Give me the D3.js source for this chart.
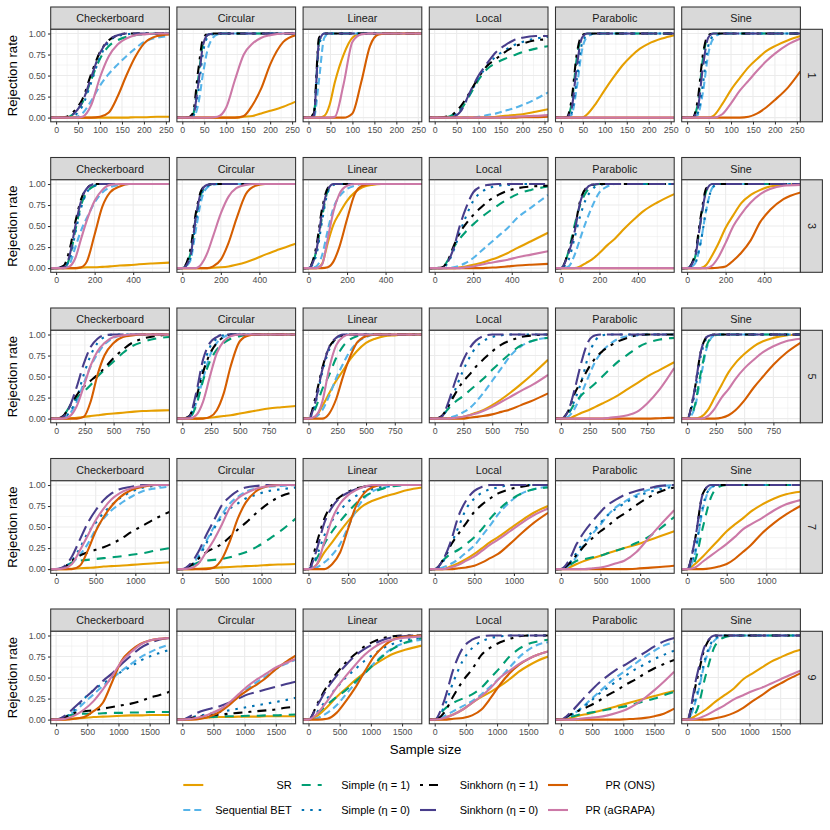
<!DOCTYPE html>
<html>
<head>
<meta charset="utf-8">
<script src="https://cdn.jsdelivr.net/npm/d3@7"></script>
<style>
  body { margin: 0; background: #fff; }
  svg { display: block; }
  text { font-family: "Liberation Sans", Arial, Helvetica, sans-serif; }
</style>
</head>
<body>
<div id="chart"></div>
<script>
//facet categories
var datasets = ["Checkerboard", "Circular", "Linear", "Local", "Parabolic", "Sine"];
var dims = [1, 3, 5, 7, 9];
var methods = ["SR", "Sequential BET", "Simple (η = 1)", "Simple (η = 0)",
  "Sinkhorn (η = 1)", "Sinkhorn (η = 0)", "PR (ONS)", "PR (aGRAPA)"];

//x limits of each row (before the 5% expansion) and its tick labels
var xLimits = [245.7, 560, 938, 1362, 1730];
var xTicks1 = [0, 50, 100, 150, 200, 250];
var xTicks3 = [0, 200, 400];
var xTicks5 = [0, 250, 500, 750];
var xTicks7 = [0, 500, 1000];
var xTicks9 = [0, 500, 1000, 1500];
var yTicks = [0, 0.25, 0.5, 0.75, 1];

//sample sizes at which the rejection rates were read
var grid1 = [0, 12, 24, 36, 48, 60, 80, 100, 120, 140, 160, 180, 200, 230, 258];
var grid3 = [0, 40, 70, 100, 130, 160, 200, 240, 280, 330, 380, 430, 500, 588];
var grid5 = [0, 60, 120, 180, 240, 300, 360, 420, 500, 580, 660, 750, 860, 985];
var grid7 = [0, 100, 200, 300, 400, 500, 600, 700, 800, 950, 1100, 1250, 1430];
var grid9 = [0, 150, 300, 450, 600, 750, 900, 1050, 1200, 1350, 1500, 1650, 1816];

//rejection rates, one line per method (same order as methods)
//d = 1
var d1Checkerboard = [
  [0, 0, 0, 0, 0, 0, 0, 0, 0, 0, 0, 0.005, 0.005, 0.01, 0.01],
  [0, 0, 0, 0, 0.01, 0.05, 0.2, 0.38, 0.52, 0.63, 0.73, 0.82, 0.9, 0.95, 0.97],
  [0, 0, 0, 0.03, 0.09, 0.18, 0.45, 0.7, 0.85, 0.92, 0.96, 0.98, 0.99, 1, 1],
  [0, 0, 0, 0.01, 0.05, 0.14, 0.42, 0.72, 0.9, 0.97, 0.99, 1, 1, 1, 1],
  [0, 0, 0.01, 0.05, 0.12, 0.22, 0.52, 0.78, 0.92, 0.98, 1, 1, 1, 1, 1],
  [0, 0, 0, 0.03, 0.09, 0.19, 0.48, 0.77, 0.92, 0.98, 1, 1, 1, 1, 1],
  [0, 0, 0, 0, 0, 0, 0, 0.01, 0.06, 0.25, 0.5, 0.72, 0.88, 0.97, 0.99],
  [0, 0, 0, 0, 0, 0.01, 0.15, 0.48, 0.73, 0.87, 0.94, 0.98, 0.99, 1, 1]
];
var d1Circular = [
  [0, 0, 0, 0, 0, 0, 0, 0, 0, 0.01, 0.02, 0.05, 0.08, 0.13, 0.19],
  [0, 0, 0, 0.15, 0.55, 0.85, 0.99, 1, 1, 1, 1, 1, 1, 1, 1],
  [0, 0, 0.03, 0.45, 0.9, 0.99, 1, 1, 1, 1, 1, 1, 1, 1, 1],
  [0, 0, 0.01, 0.3, 0.8, 0.97, 1, 1, 1, 1, 1, 1, 1, 1, 1],
  [0, 0, 0.05, 0.55, 0.95, 1, 1, 1, 1, 1, 1, 1, 1, 1, 1],
  [0, 0, 0.02, 0.38, 0.88, 0.99, 1, 1, 1, 1, 1, 1, 1, 1, 1],
  [0, 0, 0, 0, 0, 0, 0, 0, 0, 0.02, 0.15, 0.35, 0.63, 0.9, 0.98],
  [0, 0, 0, 0, 0, 0, 0.01, 0.12, 0.45, 0.75, 0.88, 0.95, 0.98, 1, 1]
];
var d1Linear = [
  [0, 0, 0, 0.02, 0.15, 0.42, 0.75, 0.95, 1, 1, 1, 1, 1, 1, 1],
  [0, 0, 0.45, 0.95, 1, 1, 1, 1, 1, 1, 1, 1, 1, 1, 1],
  [0, 0.03, 0.9, 1, 1, 1, 1, 1, 1, 1, 1, 1, 1, 1, 1],
  [0, 0.02, 0.85, 1, 1, 1, 1, 1, 1, 1, 1, 1, 1, 1, 1],
  [0, 0.05, 0.95, 1, 1, 1, 1, 1, 1, 1, 1, 1, 1, 1, 1],
  [0, 0.02, 0.9, 1, 1, 1, 1, 1, 1, 1, 1, 1, 1, 1, 1],
  [0, 0, 0, 0, 0, 0, 0, 0.05, 0.42, 0.85, 0.99, 1, 1, 1, 1],
  [0, 0, 0, 0, 0, 0.01, 0.4, 0.9, 0.99, 1, 1, 1, 1, 1, 1]
];
var d1Local = [
  [0, 0, 0, 0, 0, 0, 0, 0, 0, 0.01, 0.02, 0.03, 0.04, 0.07, 0.1],
  [0, 0, 0, 0, 0, 0, 0, 0.01, 0.03, 0.05, 0.08, 0.11, 0.15, 0.22, 0.3],
  [0, 0, 0, 0.02, 0.05, 0.1, 0.27, 0.45, 0.58, 0.65, 0.7, 0.74, 0.78, 0.82, 0.85],
  [0, 0, 0, 0.01, 0.04, 0.1, 0.28, 0.47, 0.62, 0.73, 0.8, 0.86, 0.9, 0.94, 0.96],
  [0, 0, 0.01, 0.02, 0.07, 0.14, 0.3, 0.48, 0.62, 0.7, 0.78, 0.84, 0.88, 0.92, 0.93],
  [0, 0, 0, 0, 0.02, 0.08, 0.3, 0.5, 0.65, 0.78, 0.86, 0.92, 0.95, 0.97, 0.97],
  [0, 0, 0, 0, 0, 0, 0, 0, 0, 0, 0, 0, 0.005, 0.005, 0.01],
  [0, 0, 0, 0, 0, 0, 0, 0, 0, 0, 0.005, 0.01, 0.015, 0.02, 0.03]
];
var d1Parabolic = [
  [0, 0, 0, 0, 0, 0.04, 0.17, 0.33, 0.48, 0.62, 0.73, 0.82, 0.88, 0.94, 0.98],
  [0, 0, 0.03, 0.35, 0.8, 0.96, 1, 1, 1, 1, 1, 1, 1, 1, 1],
  [0, 0, 0.15, 0.7, 0.97, 1, 1, 1, 1, 1, 1, 1, 1, 1, 1],
  [0, 0, 0.05, 0.45, 0.88, 0.98, 1, 1, 1, 1, 1, 1, 1, 1, 1],
  [0, 0, 0.2, 0.75, 0.98, 1, 1, 1, 1, 1, 1, 1, 1, 1, 1],
  [0, 0, 0.1, 0.6, 0.95, 1, 1, 1, 1, 1, 1, 1, 1, 1, 1],
  [0, 0, 0, 0, 0, 0, 0, 0, 0, 0, 0, 0, 0, 0, 0],
  [0, 0, 0, 0, 0, 0, 0, 0, 0, 0, 0, 0, 0, 0, 0]
];
var d1Sine = [
  [0, 0, 0, 0, 0, 0.02, 0.16, 0.33, 0.47, 0.6, 0.7, 0.79, 0.85, 0.92, 0.97],
  [0, 0, 0.03, 0.3, 0.75, 0.94, 1, 1, 1, 1, 1, 1, 1, 1, 1],
  [0, 0, 0.15, 0.7, 0.97, 1, 1, 1, 1, 1, 1, 1, 1, 1, 1],
  [0, 0, 0.05, 0.4, 0.85, 0.97, 1, 1, 1, 1, 1, 1, 1, 1, 1],
  [0, 0, 0.2, 0.75, 0.98, 1, 1, 1, 1, 1, 1, 1, 1, 1, 1],
  [0, 0, 0.1, 0.6, 0.95, 1, 1, 1, 1, 1, 1, 1, 1, 1, 1],
  [0, 0, 0, 0, 0, 0, 0, 0, 0, 0.01, 0.05, 0.12, 0.21, 0.36, 0.55],
  [0, 0, 0, 0, 0, 0, 0.04, 0.17, 0.32, 0.44, 0.56, 0.67, 0.76, 0.87, 0.94]
];

//d = 3
var d3Checkerboard = [
  [0, 0, 0, 0, 0.005, 0.01, 0.01, 0.015, 0.02, 0.03, 0.035, 0.045, 0.055, 0.065],
  [0, 0, 0.05, 0.25, 0.45, 0.6, 0.78, 0.9, 0.96, 0.99, 1, 1, 1, 1],
  [0, 0.01, 0.12, 0.45, 0.75, 0.9, 0.98, 1, 1, 1, 1, 1, 1, 1],
  [0, 0.01, 0.1, 0.42, 0.72, 0.9, 0.98, 1, 1, 1, 1, 1, 1, 1],
  [0, 0.03, 0.22, 0.55, 0.82, 0.95, 1, 1, 1, 1, 1, 1, 1, 1],
  [0, 0.01, 0.15, 0.5, 0.8, 0.95, 1, 1, 1, 1, 1, 1, 1, 1],
  [0, 0, 0, 0, 0.01, 0.08, 0.4, 0.73, 0.9, 0.97, 1, 1, 1, 1],
  [0, 0, 0.02, 0.12, 0.35, 0.57, 0.8, 0.93, 0.99, 1, 1, 1, 1, 1]
];
var d3Circular = [
  [0, 0, 0, 0, 0, 0.005, 0.01, 0.02, 0.04, 0.07, 0.11, 0.16, 0.22, 0.29],
  [0, 0.08, 0.45, 0.82, 0.96, 0.99, 1, 1, 1, 1, 1, 1, 1, 1],
  [0, 0.15, 0.6, 0.9, 0.98, 1, 1, 1, 1, 1, 1, 1, 1, 1],
  [0, 0.1, 0.55, 0.88, 0.97, 1, 1, 1, 1, 1, 1, 1, 1, 1],
  [0, 0.2, 0.65, 0.93, 0.99, 1, 1, 1, 1, 1, 1, 1, 1, 1],
  [0, 0.12, 0.6, 0.92, 0.99, 1, 1, 1, 1, 1, 1, 1, 1, 1],
  [0, 0, 0, 0, 0, 0.02, 0.1, 0.3, 0.58, 0.88, 0.98, 1, 1, 1],
  [0, 0, 0, 0.05, 0.18, 0.38, 0.65, 0.85, 0.95, 0.99, 1, 1, 1, 1]
];
var d3Linear = [
  [0, 0, 0.05, 0.3, 0.52, 0.65, 0.8, 0.9, 0.96, 0.99, 1, 1, 1, 1],
  [0, 0.02, 0.15, 0.45, 0.72, 0.85, 0.94, 0.98, 1, 1, 1, 1, 1, 1],
  [0, 0.2, 0.6, 0.92, 1, 1, 1, 1, 1, 1, 1, 1, 1, 1],
  [0, 0.15, 0.55, 0.9, 0.99, 1, 1, 1, 1, 1, 1, 1, 1, 1],
  [0, 0.25, 0.7, 0.95, 1, 1, 1, 1, 1, 1, 1, 1, 1, 1],
  [0, 0.2, 0.65, 0.93, 1, 1, 1, 1, 1, 1, 1, 1, 1, 1],
  [0, 0, 0, 0.01, 0.08, 0.25, 0.58, 0.88, 0.98, 1, 1, 1, 1, 1],
  [0, 0, 0.04, 0.35, 0.68, 0.88, 0.98, 1, 1, 1, 1, 1, 1, 1]
];
var d3Local = [
  [0, 0, 0, 0, 0.01, 0.02, 0.04, 0.06, 0.09, 0.13, 0.18, 0.24, 0.32, 0.42],
  [0, 0, 0, 0.01, 0.03, 0.06, 0.12, 0.2, 0.28, 0.38, 0.48, 0.6, 0.72, 0.87],
  [0, 0.01, 0.1, 0.25, 0.35, 0.43, 0.52, 0.6, 0.67, 0.75, 0.82, 0.88, 0.93, 0.97],
  [0, 0, 0.07, 0.22, 0.42, 0.6, 0.8, 0.9, 0.95, 0.98, 0.99, 1, 1, 1],
  [0, 0.01, 0.1, 0.27, 0.42, 0.52, 0.63, 0.72, 0.8, 0.87, 0.92, 0.95, 0.97, 0.98],
  [0, 0, 0.08, 0.25, 0.5, 0.7, 0.9, 0.97, 0.99, 1, 1, 1, 1, 1],
  [0, 0, 0, 0, 0, 0, 0, 0, 0.005, 0.01, 0.02, 0.03, 0.04, 0.05],
  [0, 0, 0, 0, 0, 0.01, 0.02, 0.04, 0.06, 0.08, 0.1, 0.13, 0.16, 0.2]
];
var d3Parabolic = [
  [0, 0, 0, 0.02, 0.06, 0.1, 0.18, 0.27, 0.35, 0.47, 0.58, 0.68, 0.78, 0.88],
  [0, 0.02, 0.15, 0.35, 0.55, 0.72, 0.9, 0.97, 1, 1, 1, 1, 1, 1],
  [0, 0.2, 0.5, 0.75, 0.9, 0.97, 1, 1, 1, 1, 1, 1, 1, 1],
  [0, 0.1, 0.35, 0.62, 0.82, 0.93, 0.99, 1, 1, 1, 1, 1, 1, 1],
  [0, 0.2, 0.45, 0.8, 0.95, 0.99, 1, 1, 1, 1, 1, 1, 1, 1],
  [0, 0.18, 0.42, 0.78, 0.94, 0.99, 1, 1, 1, 1, 1, 1, 1, 1],
  [0, 0, 0, 0, 0, 0, 0, 0, 0, 0, 0, 0, 0, 0],
  [0, 0, 0, 0, 0, 0, 0, 0, 0, 0, 0, 0, 0, 0]
];
var d3Sine = [
  [0, 0, 0, 0.04, 0.15, 0.28, 0.48, 0.63, 0.77, 0.87, 0.93, 0.97, 0.99, 1],
  [0, 0.05, 0.3, 0.7, 0.95, 1, 1, 1, 1, 1, 1, 1, 1, 1],
  [0, 0.12, 0.55, 0.92, 1, 1, 1, 1, 1, 1, 1, 1, 1, 1],
  [0, 0.05, 0.3, 0.7, 0.95, 1, 1, 1, 1, 1, 1, 1, 1, 1],
  [0, 0.15, 0.6, 0.95, 1, 1, 1, 1, 1, 1, 1, 1, 1, 1],
  [0, 0.12, 0.55, 0.92, 1, 1, 1, 1, 1, 1, 1, 1, 1, 1],
  [0, 0, 0, 0, 0, 0.005, 0.02, 0.09, 0.18, 0.33, 0.55, 0.69, 0.82, 0.9],
  [0, 0, 0, 0, 0.03, 0.12, 0.3, 0.5, 0.64, 0.78, 0.88, 0.94, 0.98, 0.99]
];

//d = 5
var d5Checkerboard = [
  [0, 0, 0.005, 0.01, 0.02, 0.03, 0.04, 0.05, 0.06, 0.07, 0.08, 0.09, 0.095, 0.1],
  [0, 0.01, 0.06, 0.2, 0.42, 0.62, 0.77, 0.88, 0.96, 0.99, 1, 1, 1, 1],
  [0, 0.03, 0.15, 0.25, 0.32, 0.4, 0.5, 0.58, 0.68, 0.78, 0.86, 0.91, 0.95, 0.97],
  [0, 0.01, 0.08, 0.25, 0.52, 0.75, 0.9, 0.97, 1, 1, 1, 1, 1, 1],
  [0, 0.03, 0.15, 0.28, 0.38, 0.45, 0.52, 0.6, 0.72, 0.82, 0.9, 0.95, 0.98, 1],
  [0, 0.02, 0.15, 0.38, 0.65, 0.85, 0.95, 0.99, 1, 1, 1, 1, 1, 1],
  [0, 0, 0, 0, 0.02, 0.2, 0.52, 0.75, 0.9, 0.97, 0.99, 1, 1, 1],
  [0, 0, 0.03, 0.15, 0.38, 0.63, 0.8, 0.9, 0.97, 0.99, 1, 1, 1, 1]
];
var d5Circular = [
  [0, 0, 0, 0.005, 0.01, 0.02, 0.03, 0.04, 0.06, 0.08, 0.1, 0.12, 0.135, 0.15],
  [0, 0.01, 0.18, 0.47, 0.75, 0.9, 0.97, 1, 1, 1, 1, 1, 1, 1],
  [0, 0.01, 0.15, 0.45, 0.68, 0.82, 0.9, 0.95, 0.98, 1, 1, 1, 1, 1],
  [0, 0.02, 0.25, 0.6, 0.85, 0.95, 0.99, 1, 1, 1, 1, 1, 1, 1],
  [0, 0.03, 0.25, 0.55, 0.77, 0.9, 0.97, 1, 1, 1, 1, 1, 1, 1],
  [0, 0.02, 0.3, 0.7, 0.9, 0.97, 1, 1, 1, 1, 1, 1, 1, 1],
  [0, 0, 0, 0, 0.02, 0.1, 0.3, 0.62, 0.92, 0.99, 1, 1, 1, 1],
  [0, 0, 0.04, 0.2, 0.5, 0.78, 0.92, 0.98, 1, 1, 1, 1, 1, 1]
];
var d5Linear = [
  [0, 0.02, 0.15, 0.3, 0.45, 0.57, 0.7, 0.8, 0.9, 0.95, 0.98, 0.99, 1, 1],
  [0, 0.02, 0.1, 0.27, 0.48, 0.65, 0.8, 0.9, 0.97, 1, 1, 1, 1, 1],
  [0, 0.12, 0.35, 0.52, 0.72, 0.86, 0.94, 0.98, 1, 1, 1, 1, 1, 1],
  [0, 0.18, 0.55, 0.82, 0.95, 0.99, 1, 1, 1, 1, 1, 1, 1, 1],
  [0, 0.25, 0.6, 0.85, 0.95, 0.99, 1, 1, 1, 1, 1, 1, 1, 1],
  [0, 0.2, 0.58, 0.85, 0.96, 1, 1, 1, 1, 1, 1, 1, 1, 1],
  [0, 0, 0, 0.06, 0.23, 0.5, 0.73, 0.9, 0.98, 1, 1, 1, 1, 1],
  [0, 0.03, 0.2, 0.6, 0.87, 0.97, 1, 1, 1, 1, 1, 1, 1, 1]
];
var d5Local = [
  [0, 0, 0, 0.01, 0.02, 0.04, 0.07, 0.1, 0.16, 0.23, 0.31, 0.41, 0.54, 0.7],
  [0, 0, 0.01, 0.03, 0.07, 0.12, 0.2, 0.3, 0.45, 0.6, 0.75, 0.86, 0.93, 0.96],
  [0, 0.03, 0.12, 0.2, 0.26, 0.33, 0.4, 0.47, 0.58, 0.68, 0.78, 0.87, 0.93, 0.96],
  [0, 0.02, 0.15, 0.35, 0.55, 0.72, 0.85, 0.92, 0.97, 0.99, 1, 1, 1, 1],
  [0, 0.03, 0.15, 0.3, 0.43, 0.52, 0.62, 0.7, 0.8, 0.88, 0.93, 0.97, 0.99, 1],
  [0, 0.02, 0.2, 0.45, 0.67, 0.83, 0.93, 0.98, 1, 1, 1, 1, 1, 1],
  [0, 0, 0, 0, 0, 0.01, 0.02, 0.03, 0.05, 0.08, 0.11, 0.16, 0.22, 0.3],
  [0, 0, 0, 0.01, 0.02, 0.04, 0.06, 0.09, 0.14, 0.2, 0.26, 0.33, 0.41, 0.52]
];
var d5Parabolic = [
  [0, 0, 0.03, 0.07, 0.1, 0.14, 0.18, 0.22, 0.28, 0.35, 0.42, 0.5, 0.58, 0.67],
  [0, 0.02, 0.12, 0.3, 0.5, 0.68, 0.8, 0.88, 0.95, 0.98, 0.99, 1, 1, 1],
  [0, 0.05, 0.18, 0.28, 0.35, 0.42, 0.5, 0.58, 0.68, 0.76, 0.84, 0.9, 0.94, 0.96],
  [0, 0.05, 0.22, 0.45, 0.75, 0.93, 0.99, 1, 1, 1, 1, 1, 1, 1],
  [0, 0.08, 0.3, 0.45, 0.6, 0.72, 0.8, 0.86, 0.92, 0.96, 0.99, 1, 1, 1],
  [0, 0.08, 0.35, 0.68, 0.92, 0.99, 1, 1, 1, 1, 1, 1, 1, 1],
  [0, 0, 0, 0, 0, 0, 0, 0, 0, 0, 0, 0, 0.005, 0.01],
  [0, 0, 0, 0, 0, 0, 0, 0.01, 0.02, 0.04, 0.08, 0.18, 0.35, 0.6]
];
var d5Sine = [
  [0, 0, 0.02, 0.1, 0.25, 0.4, 0.55, 0.66, 0.77, 0.86, 0.92, 0.96, 0.99, 1],
  [0, 0.1, 0.5, 0.88, 0.99, 1, 1, 1, 1, 1, 1, 1, 1, 1],
  [0, 0.12, 0.55, 0.9, 0.99, 1, 1, 1, 1, 1, 1, 1, 1, 1],
  [0, 0.25, 0.75, 0.97, 1, 1, 1, 1, 1, 1, 1, 1, 1, 1],
  [0, 0.3, 0.8, 0.98, 1, 1, 1, 1, 1, 1, 1, 1, 1, 1],
  [0, 0.3, 0.8, 0.98, 1, 1, 1, 1, 1, 1, 1, 1, 1, 1],
  [0, 0, 0, 0, 0, 0.01, 0.04, 0.1, 0.22, 0.37, 0.5, 0.64, 0.78, 0.9],
  [0, 0, 0, 0.03, 0.12, 0.25, 0.35, 0.47, 0.6, 0.7, 0.79, 0.86, 0.92, 0.95]
];

//d = 7
var d7Checkerboard = [
  [0, 0, 0.005, 0.01, 0.015, 0.02, 0.03, 0.035, 0.04, 0.05, 0.06, 0.07, 0.08],
  [0, 0.01, 0.07, 0.17, 0.3, 0.47, 0.6, 0.7, 0.77, 0.86, 0.93, 0.96, 0.98],
  [0, 0.02, 0.08, 0.1, 0.11, 0.12, 0.13, 0.14, 0.15, 0.17, 0.19, 0.22, 0.25],
  [0, 0.02, 0.1, 0.25, 0.43, 0.55, 0.67, 0.76, 0.84, 0.92, 0.97, 0.99, 1],
  [0, 0.02, 0.1, 0.16, 0.2, 0.23, 0.26, 0.3, 0.35, 0.44, 0.52, 0.6, 0.68],
  [0, 0.03, 0.15, 0.35, 0.55, 0.7, 0.82, 0.9, 0.95, 0.98, 1, 1, 1],
  [0, 0, 0, 0.04, 0.22, 0.45, 0.62, 0.75, 0.85, 0.94, 0.98, 1, 1],
  [0, 0.01, 0.06, 0.22, 0.4, 0.58, 0.72, 0.83, 0.9, 0.96, 0.99, 1, 1]
];
var d7Circular = [
  [0, 0, 0.005, 0.01, 0.015, 0.02, 0.025, 0.03, 0.035, 0.04, 0.05, 0.055, 0.06],
  [0, 0.03, 0.15, 0.33, 0.5, 0.65, 0.78, 0.86, 0.92, 0.96, 0.98, 0.99, 1],
  [0, 0.03, 0.08, 0.1, 0.11, 0.12, 0.14, 0.17, 0.2, 0.27, 0.36, 0.46, 0.6],
  [0, 0.03, 0.13, 0.3, 0.48, 0.62, 0.72, 0.78, 0.84, 0.89, 0.93, 0.95, 0.97],
  [0, 0.04, 0.12, 0.2, 0.25, 0.3, 0.38, 0.47, 0.55, 0.68, 0.79, 0.87, 0.92],
  [0, 0.06, 0.2, 0.4, 0.58, 0.76, 0.86, 0.93, 0.97, 0.99, 1, 1, 1],
  [0, 0, 0, 0, 0.02, 0.12, 0.33, 0.6, 0.79, 0.94, 0.99, 1, 1],
  [0, 0.01, 0.06, 0.2, 0.35, 0.53, 0.73, 0.84, 0.9, 0.96, 0.99, 1, 1]
];
var d7Linear = [
  [0, 0.05, 0.2, 0.32, 0.45, 0.57, 0.68, 0.76, 0.81, 0.86, 0.9, 0.94, 0.97],
  [0, 0.02, 0.08, 0.17, 0.3, 0.5, 0.7, 0.84, 0.92, 0.97, 0.99, 1, 1],
  [0, 0.12, 0.3, 0.45, 0.57, 0.68, 0.78, 0.86, 0.91, 0.96, 0.99, 1, 1],
  [0, 0.15, 0.4, 0.58, 0.7, 0.8, 0.87, 0.92, 0.95, 0.98, 1, 1, 1],
  [0, 0.3, 0.6, 0.77, 0.86, 0.92, 0.96, 0.98, 1, 1, 1, 1, 1],
  [0, 0.22, 0.55, 0.74, 0.85, 0.91, 0.95, 0.98, 0.99, 1, 1, 1, 1],
  [0, 0, 0, 0.06, 0.2, 0.48, 0.75, 0.9, 0.97, 1, 1, 1, 1],
  [0, 0.05, 0.32, 0.6, 0.78, 0.88, 0.94, 0.98, 1, 1, 1, 1, 1]
];
var d7Local = [
  [0, 0, 0.03, 0.07, 0.12, 0.18, 0.25, 0.32, 0.38, 0.48, 0.58, 0.67, 0.75],
  [0, 0.02, 0.06, 0.12, 0.2, 0.28, 0.4, 0.52, 0.65, 0.8, 0.9, 0.95, 0.98],
  [0, 0.1, 0.18, 0.23, 0.3, 0.38, 0.48, 0.6, 0.7, 0.82, 0.9, 0.95, 0.97],
  [0, 0.08, 0.28, 0.5, 0.72, 0.84, 0.91, 0.95, 0.97, 1, 1, 1, 1],
  [0, 0.1, 0.28, 0.42, 0.55, 0.68, 0.77, 0.84, 0.9, 0.95, 0.98, 1, 1],
  [0, 0.1, 0.32, 0.63, 0.82, 0.93, 0.98, 1, 1, 1, 1, 1, 1],
  [0, 0, 0, 0.01, 0.02, 0.04, 0.08, 0.13, 0.18, 0.3, 0.43, 0.55, 0.67],
  [0, 0, 0.02, 0.05, 0.1, 0.15, 0.22, 0.29, 0.35, 0.45, 0.55, 0.64, 0.72]
];
var d7Parabolic = [
  [0, 0.02, 0.06, 0.1, 0.13, 0.16, 0.19, 0.22, 0.25, 0.29, 0.34, 0.39, 0.45],
  [0, 0.04, 0.15, 0.3, 0.42, 0.53, 0.65, 0.74, 0.8, 0.88, 0.94, 0.98, 1],
  [0, 0.04, 0.1, 0.12, 0.14, 0.16, 0.19, 0.22, 0.25, 0.31, 0.38, 0.48, 0.62],
  [0, 0.06, 0.2, 0.34, 0.45, 0.55, 0.65, 0.72, 0.78, 0.86, 0.91, 0.95, 0.98],
  [0, 0.06, 0.17, 0.28, 0.37, 0.45, 0.52, 0.6, 0.66, 0.76, 0.85, 0.92, 0.97],
  [0, 0.1, 0.3, 0.45, 0.57, 0.68, 0.77, 0.83, 0.88, 0.93, 0.96, 0.99, 1],
  [0, 0, 0, 0, 0, 0, 0, 0, 0, 0.005, 0.015, 0.025, 0.04],
  [0, 0, 0, 0, 0.01, 0.02, 0.04, 0.07, 0.1, 0.2, 0.36, 0.52, 0.7]
];
var d7Sine = [
  [0, 0.06, 0.15, 0.25, 0.35, 0.45, 0.53, 0.6, 0.68, 0.77, 0.84, 0.89, 0.92],
  [0, 0.18, 0.72, 0.97, 1, 1, 1, 1, 1, 1, 1, 1, 1],
  [0, 0.1, 0.5, 0.85, 0.98, 1, 1, 1, 1, 1, 1, 1, 1],
  [0, 0.2, 0.75, 0.97, 1, 1, 1, 1, 1, 1, 1, 1, 1],
  [0, 0.35, 0.9, 1, 1, 1, 1, 1, 1, 1, 1, 1, 1],
  [0, 0.35, 0.9, 1, 1, 1, 1, 1, 1, 1, 1, 1, 1],
  [0, 0, 0, 0.01, 0.03, 0.06, 0.12, 0.2, 0.28, 0.43, 0.55, 0.65, 0.75],
  [0, 0.02, 0.09, 0.16, 0.23, 0.3, 0.38, 0.47, 0.53, 0.61, 0.7, 0.77, 0.82]
];

//d = 9
var d9Checkerboard = [
  [0, 0.005, 0.015, 0.02, 0.03, 0.035, 0.04, 0.045, 0.05, 0.05, 0.055, 0.055, 0.055],
  [0, 0.03, 0.1, 0.2, 0.3, 0.4, 0.49, 0.58, 0.66, 0.74, 0.8, 0.85, 0.89],
  [0, 0.04, 0.06, 0.07, 0.07, 0.075, 0.08, 0.08, 0.085, 0.085, 0.09, 0.09, 0.09],
  [0, 0.03, 0.12, 0.25, 0.35, 0.43, 0.5, 0.57, 0.63, 0.7, 0.75, 0.79, 0.83],
  [0, 0.03, 0.08, 0.1, 0.11, 0.13, 0.15, 0.17, 0.19, 0.22, 0.26, 0.29, 0.33],
  [0, 0.05, 0.15, 0.25, 0.35, 0.46, 0.55, 0.66, 0.76, 0.85, 0.91, 0.95, 0.97],
  [0, 0, 0.01, 0.03, 0.1, 0.2, 0.45, 0.7, 0.82, 0.9, 0.94, 0.96, 0.97],
  [0, 0.01, 0.05, 0.12, 0.22, 0.36, 0.52, 0.69, 0.8, 0.89, 0.94, 0.96, 0.97]
];
var d9Circular = [
  [0, 0.01, 0.02, 0.025, 0.03, 0.03, 0.035, 0.035, 0.035, 0.04, 0.04, 0.04, 0.04],
  [0, 0.01, 0.03, 0.06, 0.11, 0.18, 0.28, 0.37, 0.45, 0.52, 0.6, 0.66, 0.71],
  [0, 0.01, 0.02, 0.03, 0.035, 0.04, 0.04, 0.045, 0.045, 0.05, 0.05, 0.055, 0.06],
  [0, 0.03, 0.05, 0.07, 0.09, 0.11, 0.13, 0.15, 0.17, 0.19, 0.21, 0.23, 0.26],
  [0, 0.02, 0.04, 0.05, 0.06, 0.07, 0.08, 0.09, 0.1, 0.11, 0.12, 0.14, 0.15],
  [0, 0.05, 0.1, 0.13, 0.16, 0.2, 0.25, 0.3, 0.33, 0.36, 0.39, 0.42, 0.45],
  [0, 0, 0.01, 0.04, 0.09, 0.17, 0.27, 0.35, 0.42, 0.5, 0.6, 0.68, 0.76],
  [0, 0.01, 0.03, 0.07, 0.12, 0.2, 0.3, 0.4, 0.48, 0.55, 0.62, 0.67, 0.72]
];
var d9Linear = [
  [0, 0.05, 0.15, 0.27, 0.37, 0.47, 0.56, 0.65, 0.72, 0.78, 0.82, 0.85, 0.88],
  [0, 0.02, 0.08, 0.17, 0.3, 0.43, 0.55, 0.67, 0.77, 0.85, 0.9, 0.93, 0.95],
  [0, 0.08, 0.18, 0.27, 0.35, 0.45, 0.55, 0.66, 0.76, 0.84, 0.9, 0.94, 0.97],
  [0, 0.1, 0.25, 0.38, 0.5, 0.6, 0.7, 0.78, 0.85, 0.9, 0.94, 0.96, 0.97],
  [0, 0.2, 0.4, 0.55, 0.68, 0.78, 0.87, 0.93, 0.97, 0.99, 1, 1, 1],
  [0, 0.18, 0.37, 0.52, 0.65, 0.76, 0.84, 0.9, 0.95, 0.98, 0.99, 1, 1],
  [0, 0, 0.01, 0.08, 0.22, 0.38, 0.57, 0.75, 0.87, 0.95, 0.98, 0.99, 1],
  [0, 0.08, 0.22, 0.38, 0.52, 0.65, 0.77, 0.86, 0.92, 0.95, 0.97, 0.98, 0.99]
];
var d9Local = [
  [0, 0.02, 0.06, 0.12, 0.2, 0.27, 0.33, 0.4, 0.48, 0.57, 0.64, 0.7, 0.75],
  [0, 0.04, 0.1, 0.16, 0.22, 0.3, 0.4, 0.5, 0.62, 0.74, 0.83, 0.89, 0.92],
  [0, 0.12, 0.2, 0.25, 0.3, 0.38, 0.5, 0.62, 0.75, 0.84, 0.9, 0.93, 0.95],
  [0, 0.15, 0.45, 0.7, 0.85, 0.93, 0.97, 0.99, 1, 1, 1, 1, 1],
  [0, 0.08, 0.28, 0.46, 0.6, 0.77, 0.86, 0.92, 0.96, 0.99, 1, 1, 1],
  [0, 0.22, 0.6, 0.85, 0.95, 0.99, 1, 1, 1, 1, 1, 1, 1],
  [0, 0, 0.01, 0.02, 0.05, 0.12, 0.26, 0.42, 0.55, 0.65, 0.72, 0.77, 0.81],
  [0, 0.02, 0.06, 0.12, 0.2, 0.28, 0.38, 0.5, 0.58, 0.66, 0.72, 0.77, 0.81]
];
var d9Parabolic = [
  [0, 0.02, 0.05, 0.07, 0.1, 0.13, 0.16, 0.19, 0.22, 0.25, 0.28, 0.31, 0.34],
  [0, 0.05, 0.12, 0.22, 0.32, 0.42, 0.51, 0.59, 0.67, 0.75, 0.82, 0.88, 0.92],
  [0, 0.03, 0.06, 0.08, 0.1, 0.12, 0.14, 0.16, 0.19, 0.22, 0.25, 0.29, 0.33],
  [0, 0.05, 0.12, 0.2, 0.3, 0.38, 0.46, 0.53, 0.6, 0.66, 0.72, 0.77, 0.82],
  [0, 0.06, 0.11, 0.16, 0.22, 0.29, 0.35, 0.42, 0.48, 0.55, 0.61, 0.66, 0.71],
  [0, 0.08, 0.2, 0.32, 0.43, 0.52, 0.6, 0.66, 0.73, 0.8, 0.87, 0.93, 0.97],
  [0, 0, 0, 0, 0, 0, 0, 0.005, 0.01, 0.02, 0.04, 0.07, 0.13],
  [0, 0, 0.01, 0.02, 0.03, 0.05, 0.08, 0.12, 0.18, 0.26, 0.35, 0.45, 0.57]
];
var d9Sine = [
  [0, 0.05, 0.12, 0.21, 0.29, 0.37, 0.48, 0.55, 0.62, 0.69, 0.74, 0.79, 0.83],
  [0, 0.25, 0.72, 0.95, 1, 1, 1, 1, 1, 1, 1, 1, 1],
  [0, 0.1, 0.53, 0.88, 0.98, 1, 1, 1, 1, 1, 1, 1, 1],
  [0, 0.28, 0.75, 0.97, 1, 1, 1, 1, 1, 1, 1, 1, 1],
  [0, 0.45, 0.88, 1, 1, 1, 1, 1, 1, 1, 1, 1, 1],
  [0, 0.5, 0.9, 1, 1, 1, 1, 1, 1, 1, 1, 1, 1],
  [0, 0, 0, 0.015, 0.04, 0.08, 0.14, 0.22, 0.29, 0.37, 0.43, 0.49, 0.55],
  [0, 0.01, 0.05, 0.11, 0.17, 0.24, 0.29, 0.34, 0.38, 0.43, 0.48, 0.53, 0.58]
];

//styles per method
var methodColors = ["#E69F00", "#56B4E9", "#009E73", "#0072B2", "#000000", "#483D8B", "#D55E00", "#CC79A7"];
var methodDash = ["none", "7,4", "9,7", "2.5,6", "3,6,9,6", "16,6", "none", "none"];

//rows of the facet grid, built from the arrays above
var rows = [
  { dim: dims[0], limit: xLimits[0], grid: grid1, ticks: xTicks1,
    panels: [d1Checkerboard, d1Circular, d1Linear, d1Local, d1Parabolic, d1Sine] },
  { dim: dims[1], limit: xLimits[1], grid: grid3, ticks: xTicks3,
    panels: [d3Checkerboard, d3Circular, d3Linear, d3Local, d3Parabolic, d3Sine] },
  { dim: dims[2], limit: xLimits[2], grid: grid5, ticks: xTicks5,
    panels: [d5Checkerboard, d5Circular, d5Linear, d5Local, d5Parabolic, d5Sine] },
  { dim: dims[3], limit: xLimits[3], grid: grid7, ticks: xTicks7,
    panels: [d7Checkerboard, d7Circular, d7Linear, d7Local, d7Parabolic, d7Sine] },
  { dim: dims[4], limit: xLimits[4], grid: grid9, ticks: xTicks9,
    panels: [d9Checkerboard, d9Circular, d9Linear, d9Local, d9Parabolic, d9Sine] }
];

//layout
var width = 830, height = 830;
var panelLeft0 = 50.7, colStep = 126.2, panelW = 118.7;
var rowTop0 = 7, rowStep = 150.5, stripH = 22.3, panelH = 92.5;
var rowStripW = 22;
var curveWidth = 2.1;

var svg = d3.select("#chart")
  .append("svg")
  .attr("width", width)
  .attr("height", height);

svg.append("defs")
  .append("clipPath")
  .attr("id", "panel-clip")
  .append("rect")
  .attr("width", panelW)
  .attr("height", panelH);

//y scale is shared by all panels
var yScale = d3.scaleLinear().domain([-0.05, 1.05]).range([panelH, 0]);
var yMinor = [0.125, 0.375, 0.625, 0.875];

rows.forEach(function(row, r) {
  var stripTop = rowTop0 + r * rowStep;
  var panelTop = stripTop + stripH;

  var xScale = d3.scaleLinear()
    .domain([-0.05 * row.limit, 1.05 * row.limit])
    .range([0, panelW]);

  //minor grid sits half way between the major ticks
  var step = row.ticks[1] - row.ticks[0];
  var xMinor = [];
  for (var m = row.ticks[0] - step / 2; m <= xScale.domain()[1]; m += step) {
    if (m >= xScale.domain()[0]) xMinor.push(m);
  }

  var line = d3.line()
    .x(function(d) { return xScale(d[0]); })
    .y(function(d) { return yScale(d[1]); })
    .curve(d3.curveMonotoneX);

  row.panels.forEach(function(panel, c) {
    var left = panelLeft0 + c * colStep;

    //strip on top
    svg.append("rect")
      .attr("x", left)
      .attr("y", stripTop)
      .attr("width", panelW)
      .attr("height", stripH)
      .attr("fill", "#D9D9D9")
      .attr("stroke", "#333333")
      .attr("stroke-width", 1.07);

    svg.append("text")
      .attr("x", left + panelW / 2)
      .attr("y", stripTop + stripH / 2)
      .attr("dy", "0.36em")
      .attr("text-anchor", "middle")
      .attr("font-size", 10.8)
      .attr("fill", "#1A1A1A")
      .text(datasets[c]);

    var g = svg.append("g")
      .attr("transform", "translate(" + left + "," + panelTop + ")");

    g.append("rect")
      .attr("width", panelW)
      .attr("height", panelH)
      .attr("fill", "#FFFFFF");

    //grid lines
    g.selectAll(".xminor")
      .data(xMinor)
      .enter()
      .append("line")
      .attr("x1", function(d) { return xScale(d); })
      .attr("x2", function(d) { return xScale(d); })
      .attr("y1", 0)
      .attr("y2", panelH)
      .attr("stroke", "#EBEBEB")
      .attr("stroke-width", 0.55);

    g.selectAll(".yminor")
      .data(yMinor)
      .enter()
      .append("line")
      .attr("x1", 0)
      .attr("x2", panelW)
      .attr("y1", function(d) { return yScale(d); })
      .attr("y2", function(d) { return yScale(d); })
      .attr("stroke", "#EBEBEB")
      .attr("stroke-width", 0.55);

    g.selectAll(".xmajor")
      .data(row.ticks)
      .enter()
      .append("line")
      .attr("x1", function(d) { return xScale(d); })
      .attr("x2", function(d) { return xScale(d); })
      .attr("y1", 0)
      .attr("y2", panelH)
      .attr("stroke", "#EBEBEB")
      .attr("stroke-width", 1.07);

    g.selectAll(".ymajor")
      .data(yTicks)
      .enter()
      .append("line")
      .attr("x1", 0)
      .attr("x2", panelW)
      .attr("y1", function(d) { return yScale(d); })
      .attr("y2", function(d) { return yScale(d); })
      .attr("stroke", "#EBEBEB")
      .attr("stroke-width", 1.07);

    //curves, extended to the left edge with their first value
    var curves = g.append("g").attr("clip-path", "url(#panel-clip)");
    panel.forEach(function(values, k) {
      var pts = [[xScale.domain()[0], values[0]]].concat(
        row.grid.map(function(s, i) { return [s, values[i]]; })
      );
      curves.append("path")
        .attr("d", line(pts))
        .attr("fill", "none")
        .attr("stroke", methodColors[k])
        .attr("stroke-width", curveWidth)
        .attr("stroke-dasharray", methodDash[k])
        .attr("stroke-linejoin", "round");
    });

    //panel border
    g.append("rect")
      .attr("width", panelW)
      .attr("height", panelH)
      .attr("fill", "none")
      .attr("stroke", "#333333")
      .attr("stroke-width", 1.07);

    //x axis
    var xAxis = d3.axisBottom(xScale)
      .tickValues(row.ticks)
      .tickSize(2.75)
      .tickPadding(1.8)
      .tickFormat(d3.format("d"));

    var xg = g.append("g")
      .attr("transform", "translate(0," + panelH + ")")
      .call(xAxis);
    xg.select(".domain").remove();
    xg.selectAll("line").attr("stroke", "#333333").attr("stroke-width", 1.07);
    xg.selectAll("text")
      .attr("fill", "#4D4D4D")
      .attr("font-size", 8.8)
      .style("font-family", "'Liberation Sans', Arial, sans-serif");

    //y axis only on the first column
    if (c === 0) {
      var yAxis = d3.axisLeft(yScale)
        .tickValues(yTicks)
        .tickSize(2.75)
        .tickPadding(2.2)
        .tickFormat(d3.format(".2f"));
      var yg = g.append("g").call(yAxis);
      yg.select(".domain").remove();
      yg.selectAll("line").attr("stroke", "#333333").attr("stroke-width", 1.07);
      yg.selectAll("text")
        .attr("fill", "#4D4D4D")
        .attr("font-size", 8.8)
        .style("font-family", "'Liberation Sans', Arial, sans-serif");
    }
  });

  //strip on the right with the dimension
  var stripLeft = panelLeft0 + 5 * colStep + panelW;
  svg.append("rect")
    .attr("x", stripLeft)
    .attr("y", panelTop)
    .attr("width", rowStripW)
    .attr("height", panelH)
    .attr("fill", "#D9D9D9")
    .attr("stroke", "#333333")
    .attr("stroke-width", 1.07);

  svg.append("text")
    .attr("transform", "translate(" + (stripLeft + rowStripW / 2) + "," + (panelTop + panelH / 2) + ") rotate(90)")
    .attr("dy", "0.36em")
    .attr("text-anchor", "middle")
    .attr("font-size", 10.8)
    .attr("fill", "#1A1A1A")
    .text(row.dim);

  //y title for each row
  svg.append("text")
    .attr("transform", "translate(12," + (panelTop + panelH / 2) + ") rotate(-90)")
    .attr("dy", "0.36em")
    .attr("text-anchor", "middle")
    .attr("font-size", 13.2)
    .attr("fill", "#000000")
    .text("Rejection rate");
});

//x title
svg.append("text")
  .attr("x", panelLeft0 + (5 * colStep + panelW) / 2)
  .attr("y", 749)
  .attr("dy", "0.36em")
  .attr("text-anchor", "middle")
  .attr("font-size", 13.2)
  .attr("fill", "#000000")
  .text("Sample size");

//legend: two rows, filled column by column, labels right aligned
var legendKeyX = [183.3, 301.7, 420, 548];
var legendLabelEnd = [291.7, 410, 538.3, 655];
var legendRowY = [785, 810];
var legend = svg.append("g");

methods.forEach(function(name, k) {
  var col = Math.floor(k / 2), rr = k % 2;
  legend.append("line")
    .attr("x1", legendKeyX[col])
    .attr("x2", legendKeyX[col] + 20)
    .attr("y1", legendRowY[rr])
    .attr("y2", legendRowY[rr])
    .attr("stroke", methodColors[k])
    .attr("stroke-width", curveWidth)
    .attr("stroke-dasharray", methodDash[k]);

  legend.append("text")
    .attr("x", legendLabelEnd[col])
    .attr("y", legendRowY[rr])
    .attr("dy", "0.36em")
    .attr("text-anchor", "end")
    .attr("font-size", 11)
    .attr("fill", "#000000")
    .text(name);
});
</script>
</body>
</html>
